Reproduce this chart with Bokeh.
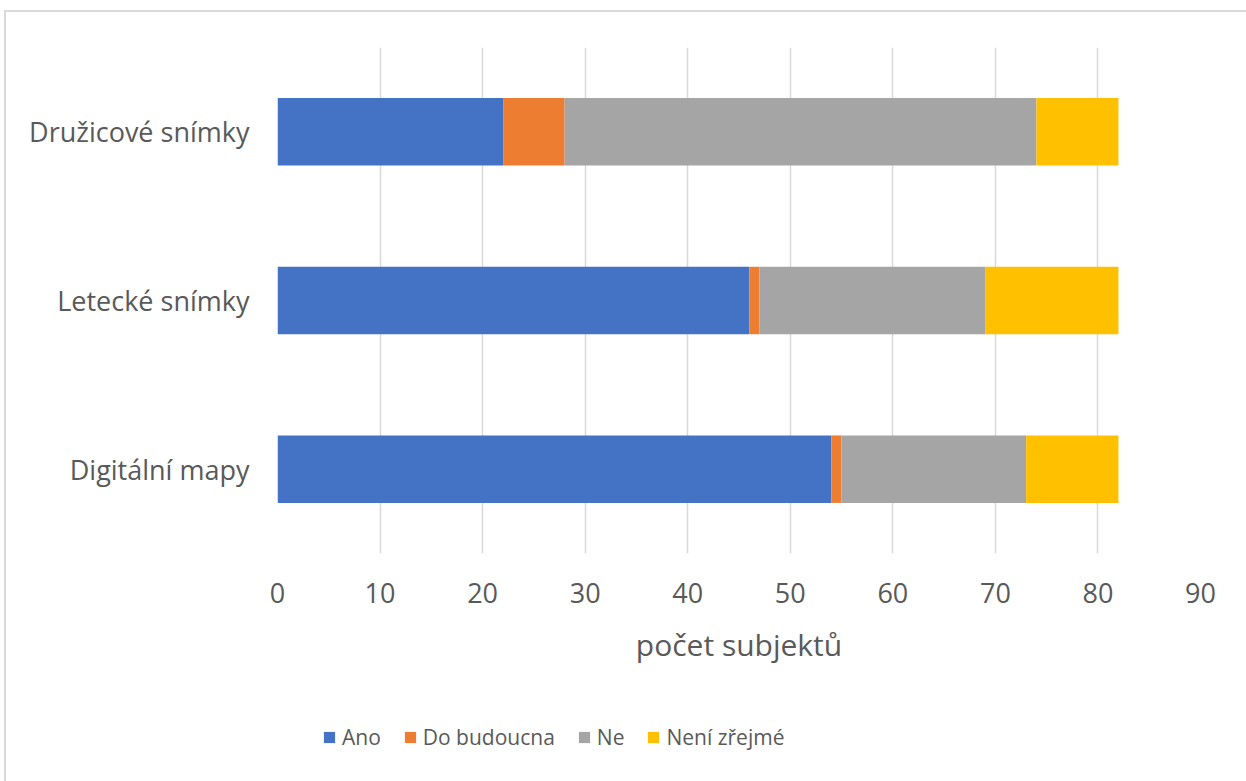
from bokeh.plotting import figure
from bokeh.layouts import column
from bokeh.models import ColumnDataSource, Legend, LegendItem, FixedTicker, Range1d
from bokeh.embed import file_html
from bokeh.resources import INLINE

# ---- data ----
categories = ["Digitální mapy", "Letecké snímky", "Družicové snímky"]
series = ["Ano", "Do budoucna", "Ne", "Není zřejmé"]
ano = [54, 46, 22]
do_budoucna = [1, 1, 6]
ne = [18, 22, 46]
neni_zrejme = [9, 13, 8]
colors = ["#4472C4", "#ED7D31", "#A5A5A5", "#FFC000"]
x_ticks = [0, 10, 20, 30, 40, 50, 60, 70, 80, 90]
x_title = "počet subjektů"

FONT = "Open Sans"
TXT = "#595959"

source = ColumnDataSource(data={
    "cat": categories,
    "Ano": ano,
    "Do budoucna": do_budoucna,
    "Ne": ne,
    "Není zřejmé": neni_zrejme,
})

p = figure(
    y_range=categories, x_range=Range1d(x_ticks[0], x_ticks[-1]),
    width=1240, height=680,
    min_border_left=271, min_border_right=46, min_border_top=35, min_border_bottom=139,
    output_backend="svg", toolbar_location=None,
)
p.outline_line_color = None
p.background_fill_color = "white"
p.border_fill_color = "white"

renderers = p.hbar_stack(series, y="cat", height=0.4, fill_color=colors,
                         line_color=None, source=source)

# grid
p.xgrid.ticker = FixedTicker(ticks=x_ticks)
p.xgrid.grid_line_color = "#d9d9d9"
p.xgrid.grid_line_width = 1.5
p.ygrid.grid_line_color = None

# x axis
xa = p.xaxis[0]
xa.ticker = FixedTicker(ticks=x_ticks)
xa.axis_line_color = None
xa.major_tick_line_color = None
xa.minor_tick_line_color = None
xa.major_tick_out = 0
xa.major_tick_in = 0
xa.major_label_standoff = 29
xa.major_label_text_font = FONT
xa.major_label_text_font_size = "27px"
xa.major_label_text_color = TXT
xa.axis_label = x_title
xa.axis_label_text_font = FONT
xa.axis_label_text_font_size = "30px"
xa.axis_label_text_font_style = "normal"
xa.axis_label_text_color = TXT
xa.axis_label_standoff = 18

# y axis
ya = p.yaxis[0]
ya.axis_line_color = None
ya.major_tick_line_color = None
ya.minor_tick_line_color = None
ya.major_tick_out = 0
ya.major_tick_in = 0
ya.major_label_standoff = 28
ya.major_label_text_font = FONT
ya.major_label_text_font_size = "27px"
ya.major_label_text_color = TXT

# ---- legend strip below ----
lg = figure(
    width=1240, height=89, x_range=Range1d(0, 1), y_range=Range1d(0, 1),
    min_border=0, output_backend="svg", toolbar_location=None,
)
lg.axis.visible = False
lg.grid.visible = False
lg.outline_line_color = None
lg.background_fill_color = "white"
lg.border_fill_color = "white"

# zero-size proxy renderers that only supply legend swatches
proxies = [lg.hbar(y=[0.5], left=[0.5], right=[0.5], height=0, fill_color=c, line_color=None)
           for c in colors]
legend = Legend(
    items=[LegendItem(label=s, renderers=[r]) for s, r in zip(series, proxies)],
    orientation="horizontal",
    location=(45, 30),
    padding=0, margin=0, spacing=22,
    glyph_width=14, glyph_height=14, label_standoff=6,
    label_text_font=FONT, label_text_font_size="21px", label_text_color=TXT,
    border_line_color=None, background_fill_alpha=0,
)
lg.add_layout(legend, "center")

layout = column(p, lg, spacing=0)
layout.margin = (12, 0, 0, 6)
layout.styles = {"outline": "2px solid #d9d9d9"}

open("out.html", "w").write(file_html(layout, INLINE))
